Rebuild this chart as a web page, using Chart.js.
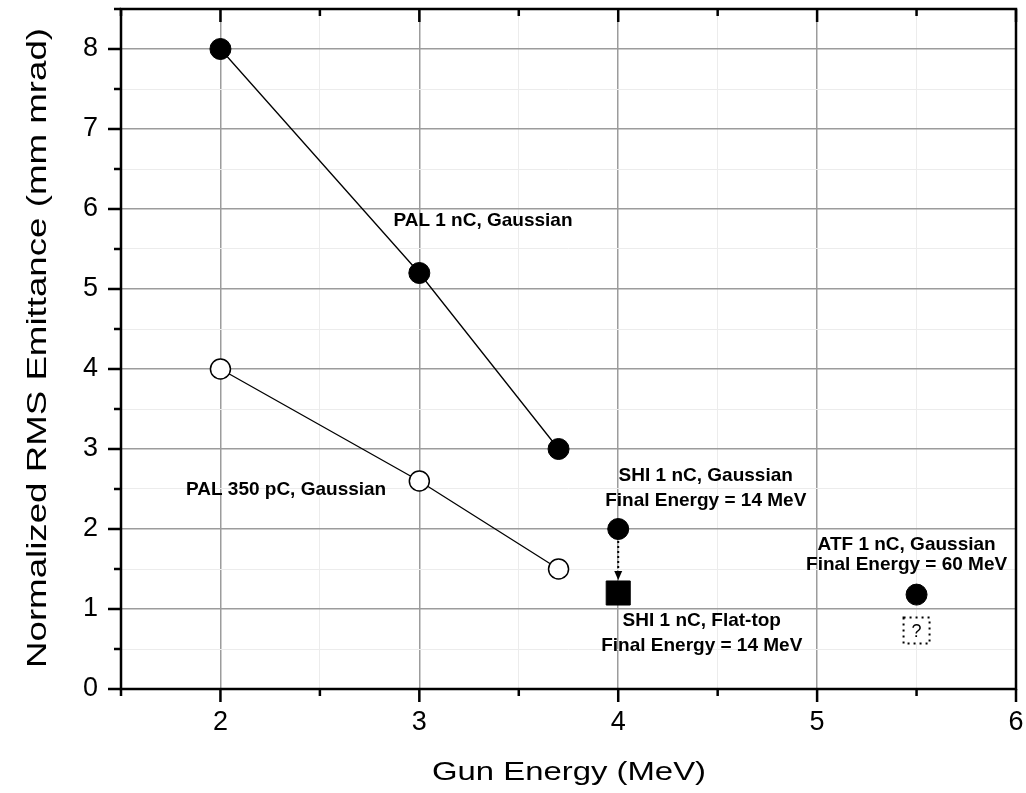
<!DOCTYPE html>
<html>
<head>
<meta charset="utf-8">
<script src="https://cdn.jsdelivr.net/npm/chart.js@4.4.1/dist/chart.umd.min.js"></script>
<style>
html,body{margin:0;padding:0;background:#fff;}
#wrap{width:1026px;height:793px;}
</style>
</head>
<body>
<div id="wrap"><canvas id="myChart" width="1026" height="793"></canvas></div>
<script>
// values
var pal1nc_x = [2, 3, 3.7];
var pal1nc_y = [8, 5.2, 3];
var pal350_x = [2, 3, 3.7];
var pal350_y = [4, 2.6, 1.5];
var shiGauss = [4, 2];
var shiFlat = [4, 1.2];
var atfGauss = [5.5, 1.18];
var atfUnknown = [5.5, 0.73];
var xTicks = [2, 3, 4, 5, 6];
var yTicks = [0, 1, 2, 3, 4, 5, 6, 7, 8];
var xTitle = "Gun Energy (MeV)";
var yTitle = "Normalized RMS Emittance (mm mrad)";
// text notes: [text, x, y] in data units
var notes = [
    ["PAL 1 nC, Gaussian", 3.32, 5.85],
    ["PAL 350 pC, Gaussian", 2.33, 2.49],
    ["SHI 1 nC, Gaussian", 4.44, 2.66],
    ["Final Energy = 14 MeV", 4.44, 2.35],
    ["SHI 1 nC, Flat-top", 4.42, 0.85],
    ["Final Energy = 14 MeV", 4.42, 0.54],
    ["ATF 1 nC, Gaussian", 5.45, 1.8],
    ["Final Energy = 60 MeV", 5.45, 1.55]
];

function pts(xs, ys){
    return xs.map((x, i) => ({x: x, y: ys[i]}));
}

const extras = {
    id: "extras",
    afterDatasetsDraw(chart){
        const ctx = chart.ctx, xs = chart.scales.x, ys = chart.scales.y;
        ctx.save();
        // dotted arrow SHI gaussian -> flat-top
        var ax = xs.getPixelForValue(shiGauss[0]);
        var ay1 = ys.getPixelForValue(shiGauss[1]) + 12;
        var ay2 = ys.getPixelForValue(shiFlat[1]) - 13;
        ctx.strokeStyle = "#000";
        ctx.lineWidth = 2;
        ctx.setLineDash([2, 3]);
        ctx.beginPath();
        ctx.moveTo(ax, ay1);
        ctx.lineTo(ax, ay2 - 6);
        ctx.stroke();
        ctx.setLineDash([]);
        ctx.fillStyle = "#000";
        ctx.beginPath();
        ctx.moveTo(ax, ay2);
        ctx.lineTo(ax - 4, ay2 - 9);
        ctx.lineTo(ax + 4, ay2 - 9);
        ctx.closePath();
        ctx.fill();
        // unknown ATF flat-top box
        var ux = xs.getPixelForValue(atfUnknown[0]);
        var uy = ys.getPixelForValue(atfUnknown[1]);
        ctx.fillStyle = "#fff";
        ctx.fillRect(ux - 13, uy - 13, 26, 26);
        ctx.setLineDash([2, 4]);
        ctx.lineWidth = 2;
        ctx.strokeRect(ux - 13, uy - 13, 26, 26);
        ctx.setLineDash([]);
        ctx.fillStyle = "#000";
        ctx.font = "18px 'Liberation Sans', Arial, sans-serif";
        ctx.textAlign = "center";
        ctx.textBaseline = "middle";
        ctx.fillText("?", ux, uy + 1);
        // notes
        ctx.font = "bold 19px 'Liberation Sans', Arial, sans-serif";
        notes.forEach(n => {
            ctx.fillText(n[0], xs.getPixelForValue(n[1]), ys.getPixelForValue(n[2]));
        });
        ctx.restore();
    },
    afterDraw(chart){
        const ctx = chart.ctx, a = chart.chartArea, xs = chart.scales.x, ys = chart.scales.y;
        ctx.save();
        ctx.strokeStyle = "#000";
        ctx.lineWidth = 2.5;
        ctx.strokeRect(a.left, a.top, a.right - a.left, a.bottom - a.top);
        ctx.lineWidth = 2.5;
        ctx.beginPath();
        for (var v = xs.min; v <= xs.max + 0.001; v += 0.5){
            var px = xs.getPixelForValue(v);
            var len = Number.isInteger(v) ? 13 : 7;
            ctx.moveTo(px, a.bottom); ctx.lineTo(px, a.bottom + len);
            ctx.moveTo(px, a.top); ctx.lineTo(px, a.top + len);
        }
        for (var w = ys.min; w <= ys.max + 0.001; w += 0.5){
            var py = ys.getPixelForValue(w);
            var l2 = Number.isInteger(w) ? 13 : 7;
            ctx.moveTo(a.left, py); ctx.lineTo(a.left - l2, py);
        }
        ctx.stroke();
        // axis titles, stretched like the original
        ctx.fillStyle = "#000";
        ctx.textAlign = "center";
        ctx.textBaseline = "alphabetic";
        ctx.font = "26px 'Liberation Sans', Arial, sans-serif";
        var sx = 274 / ctx.measureText(xTitle).width;
        ctx.save();
        ctx.translate(569, 780);
        ctx.scale(sx, 1);
        ctx.fillText(xTitle, 0, 0);
        ctx.restore();
        ctx.font = "27px 'Liberation Sans', Arial, sans-serif";
        var sy = 640 / ctx.measureText(yTitle).width;
        ctx.save();
        ctx.translate(46, 348);
        ctx.rotate(-Math.PI / 2);
        ctx.scale(sy, 1);
        ctx.fillText(yTitle, 0, 0);
        ctx.restore();
        ctx.restore();
    }
};

const gridColor = c => Number.isInteger(c.tick.value) ? "#9c9c9c" : "#ececec";
const gridWidth = c => Number.isInteger(c.tick.value) ? 1.5 : 1;

const config = {
    type: "scatter",
    data: {
        datasets: [
        {
            label: "PAL 1 nC, Gaussian",
            data: pts(pal1nc_x, pal1nc_y),
            showLine: true,
            borderColor: "#000",
            borderWidth: 1.3,
            pointRadius: 10.5,
            pointBackgroundColor: "#000",
            pointBorderColor: "#000",
            pointBorderWidth: 1
        },
        {
            label: "PAL 350 pC, Gaussian",
            data: pts(pal350_x, pal350_y),
            showLine: true,
            borderColor: "#000",
            borderWidth: 1.3,
            pointRadius: 10,
            pointBackgroundColor: "#fff",
            pointBorderColor: "#000",
            pointBorderWidth: 1.5
        },
        {
            label: "SHI 1 nC, Gaussian",
            data: [{x: shiGauss[0], y: shiGauss[1]}],
            pointRadius: 10.5,
            pointBackgroundColor: "#000",
            pointBorderColor: "#000"
        },
        {
            label: "SHI 1 nC, Flat-top",
            data: [{x: shiFlat[0], y: shiFlat[1]}],
            pointStyle: "rect",
            pointRadius: 17,
            pointBackgroundColor: "#000",
            pointBorderColor: "#000"
        },
        {
            label: "ATF 1 nC, Gaussian",
            data: [{x: atfGauss[0], y: atfGauss[1]}],
            pointRadius: 10.5,
            pointBackgroundColor: "#000",
            pointBorderColor: "#000"
        }]
    },
    options: {
        responsive: false,
        animation: false,
        devicePixelRatio: 1,
        layout: { autoPadding: false, padding: { top: 9, right: 10, left: 0, bottom: 0 } },
        plugins: {
            legend: { display: false },
            tooltip: { enabled: false }
        },
        scales: {
            x: {
                type: "linear",
                min: 1.5,
                max: 6,
                afterFit: s => { s.height = 104; s.paddingLeft = 0; s.paddingRight = 0; },
                border: { display: false },
                grid: { color: gridColor, lineWidth: gridWidth, drawTicks: false },
                ticks: {
                    stepSize: 0.5,
                    autoSkip: false,
                    maxRotation: 0,
                    padding: 17,
                    color: "#000",
                    font: { family: "'Liberation Sans', Arial, sans-serif", size: 27 },
                    callback: v => xTicks.includes(v) ? v : ""
                }
            },
            y: {
                min: 0,
                max: 8.5,
                afterFit: s => { s.width = 121; s.paddingTop = 0; s.paddingBottom = 0; },
                border: { display: false },
                grid: { color: gridColor, lineWidth: gridWidth, drawTicks: false },
                ticks: {
                    stepSize: 0.5,
                    autoSkip: false,
                    padding: 23,
                    color: "#000",
                    font: { family: "'Liberation Sans', Arial, sans-serif", size: 27 },
                    callback: v => yTicks.includes(v) ? v : ""
                }
            }
        }
    },
    plugins: [extras]
};

var mychart = new Chart(document.getElementById("myChart").getContext("2d"), config);
</script>
</body>
</html>
